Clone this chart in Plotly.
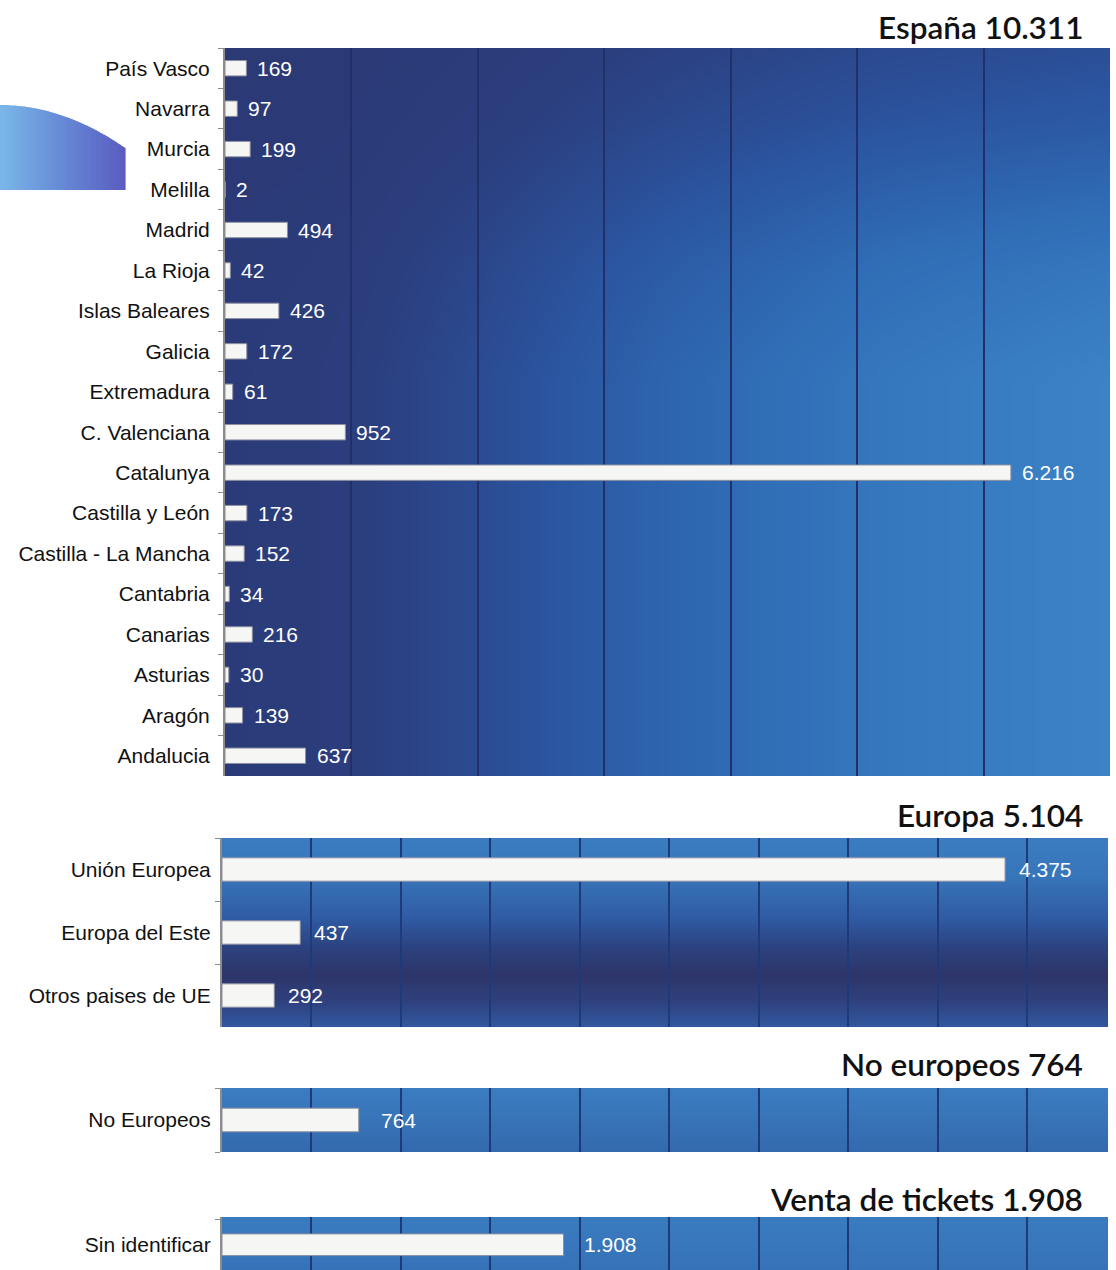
import plotly.graph_objects as go

# ---------------- data ----------------
espana_cats = ["País Vasco", "Navarra", "Murcia", "Melilla", "Madrid", "La Rioja",
               "Islas Baleares", "Galicia", "Extremadura", "C. Valenciana", "Catalunya",
               "Castilla y León", "Castilla - La Mancha", "Cantabria", "Canarias",
               "Asturias", "Aragón", "Andalucia"]
espana_vals = [169, 97, 199, 2, 494, 42, 426, 172, 61, 952, 6216, 173, 152, 34, 216, 30, 139, 637]

europa_cats = ["Unión Europea", "Europa del Este", "Otros paises de UE"]
europa_vals = [4375, 437, 292]

noeu_cats = ["No Europeos"]
noeu_vals = [764]

tickets_cats = ["Sin identificar"]
tickets_vals = [1908]

panel_titles = ["España 10.311", "Europa 5.104", "No europeos 764", "Venta de tickets 1.908"]

# ---------------- helpers ----------------
W, H = 1116, 1270


def hex2rgb(h):
    h = h.lstrip("#")
    return tuple(int(h[i:i + 2], 16) for i in (0, 2, 4))


def interp_color(stops, t):
    for (p0, c0), (p1, c1) in zip(stops[:-1], stops[1:]):
        if p0 <= t <= p1:
            f = 0 if p1 == p0 else (t - p0) / (p1 - p0)
            a, b = hex2rgb(c0), hex2rgb(c1)
            return "rgb(%d,%d,%d)" % tuple(round(a[i] + (b[i] - a[i]) * f) for i in range(3))
    return "rgb(%d,%d,%d)" % hex2rgb(stops[-1][1])


def interp_scalar(stops, t):
    for (p0, v0), (p1, v1) in zip(stops[:-1], stops[1:]):
        if p0 <= t <= p1:
            f = 0 if p1 == p0 else (t - p0) / (p1 - p0)
            return v0 + (v1 - v0) * f
    return stops[-1][1]


def fmt(v):
    return f"{v:,}".replace(",", ".")


def ydom(top_px, bot_px):
    return [max(0.0, 1 - bot_px / H), 1 - top_px / H]


# background gradient definitions (decoration)
p1_scale = [(0, "#2b3772"), (0.2, "#2b3e7e"), (0.45, "#2b55a0"), (0.7, "#2f6cb5"), (1, "#3b82c6")]
p1_h = [(0, 0.12), (0.12, 0.16), (0.3, 0.36), (0.5, 0.62), (0.75, 0.86), (1, 1.0)]
p1_v = [(0, 0.38), (0.1, 0.5), (0.3, 0.85), (0.45, 1.0), (1, 1.0)]

panels = [
    dict(cats=espana_cats, vals=espana_vals, xdom=[225 / W, 1110 / W], ydom=ydom(48, 776),
         xrange=[0, 7000], dtick=1000, width=0.38, gap=9, yrange=None, standoff=9,
         grid="#22306a", title_y=27, scale=p1_scale, twod=True),
    dict(cats=europa_cats, vals=europa_vals, xdom=[222 / W, 1108 / W], ydom=ydom(838, 1027),
         xrange=[0, 4950], dtick=500, width=0.37, gap=12, yrange=None, standoff=5,
         grid="#1f3a7a", title_y=815, twod=False,
         scale=[(0, "#3b7cc0"), (0.2, "#3775b9"), (0.42, "#2f5ba4"), (0.58, "#2c427f"),
                (0.72, "#2d3569"), (0.85, "#2f3f7c"), (1, "#3158a0")]),
    dict(cats=noeu_cats, vals=noeu_vals, xdom=[222 / W, 1108 / W], ydom=ydom(1088, 1152),
         xrange=[0, 4950], dtick=500, width=0.37, gap=20, yrange=[0.5, -0.5], standoff=5,
         grid="#1f3a7a", title_y=1064, twod=False,
         scale=[(0, "#3b7dc1"), (1, "#3469ad")]),
    dict(cats=tickets_cats, vals=tickets_vals, xdom=[222 / W, 1108 / W], ydom=ydom(1217, 1270),
         xrange=[0, 4950], dtick=500, width=0.43, gap=18, yrange=[0.5, -0.55], standoff=5,
         grid="#1f3a7a", title_y=1199, twod=False,
         scale=[(0, "#3a7bc0"), (1, "#3672b7")]),
]

fig = go.Figure()
shapes = []
annotations = []
layout = {}

label_font = dict(family="Liberation Sans, Arial, sans-serif", size=21, color="#111111")
value_font = dict(family="Liberation Sans, Arial, sans-serif", size=21, color="#ffffff")

# --- background subplots (drawn first) ---
for k, p in enumerate(panels, start=1):
    sx = "" if k == 1 else str(k)
    ny, nx = 40, (32 if p["twod"] else 2)
    xs = [i / (nx - 1) for i in range(nx)]
    ys = [j / (ny - 1) for j in range(ny)]
    if p["twod"]:
        z = [[interp_scalar(p1_h, x) * interp_scalar(p1_v, 1 - y) for x in xs] for y in ys]
    else:
        z = [[1 - y for x in xs] for y in ys]
    cs = [[s, c] for s, c in p["scale"]]
    fig.add_trace(go.Heatmap(x=xs, y=ys, z=z, zmin=0, zmax=1, colorscale=cs, zsmooth="best",
                             showscale=False, hoverinfo="skip", xaxis="x" + sx, yaxis="y" + sx))
    layout["xaxis" + sx] = dict(domain=p["xdom"], anchor="y" + sx, range=[0, 1], visible=False,
                                fixedrange=True)
    layout["yaxis" + sx] = dict(domain=p["ydom"], anchor="x" + sx, range=[0, 1], visible=False,
                                fixedrange=True)

# --- bar subplots ---
for k, p in enumerate(panels, start=1):
    sx = str(k + 4)
    xname, yname = "x" + sx, "y" + sx
    fig.add_trace(go.Bar(
        x=p["vals"], y=p["cats"], orientation="h", xaxis=xname, yaxis=yname,
        width=p["width"], marker=dict(color="#f6f6f4", line=dict(color="#8d90a0", width=1)),
        hoverinfo="x+y", showlegend=False,
    ))
    n = len(p["cats"])
    yr = p["yrange"] if p["yrange"] is not None else [n - 0.5, -0.5]
    layout["xaxis" + sx] = dict(domain=p["xdom"], anchor=yname, range=p["xrange"],
                                dtick=p["dtick"], tick0=0, showticklabels=False,
                                showgrid=True, gridcolor=p["grid"], gridwidth=2,
                                zeroline=False, showline=False, fixedrange=True)
    layout["yaxis" + sx] = dict(domain=p["ydom"], anchor=xname, type="category",
                                range=yr, showline=True, linecolor="#8c8c8c", linewidth=2,
                                ticks="outside", ticklen=5, tickcolor="#8c8c8c",
                                tickson="boundaries", ticklabelstandoff=p["standoff"],
                                tickfont=label_font, showgrid=False, fixedrange=True)

    # value labels
    for c, v in zip(p["cats"], p["vals"]):
        annotations.append(dict(x=v, y=c, xref=xname, yref=yname, text=fmt(v),
                                showarrow=False, xanchor="left", yanchor="middle",
                                xshift=p["gap"], font=value_font))

    # panel title
    annotations.append(dict(x=1085 / W, y=1 - p["title_y"] / H, xref="paper", yref="paper",
                            text=panel_titles[k - 1], showarrow=False, xanchor="right",
                            yanchor="middle",
                            font=dict(family="Lato, Open Sans, sans-serif", size=31.5,
                                      color="#111111", weight=600)))

# decorative shape at the left (trapezoid strips for a smooth curved top)
deco_stops = [(0, "#7ab8e8"), (0.5, "#6689d6"), (1, "#5a5cc0")]
step = 3


def deco_top(x):
    return 105 + 43 * (x / 125) ** 2


for x in range(0, 125, step):
    x1 = min(x + step, 125)
    xm = (x + x1) / 2
    path = "M %.5f,%.5f L %.5f,%.5f L %.5f,%.5f L %.5f,%.5f Z" % (
        x / W, 1 - 190 / H,
        x / W, 1 - deco_top(x) / H,
        (x1 + 0.6) / W, 1 - deco_top(x1) / H,
        (x1 + 0.6) / W, 1 - 190 / H)
    shapes.append(dict(type="path", xref="paper", yref="paper", path=path,
                       fillcolor=interp_color(deco_stops, xm / 125),
                       line=dict(width=0), layer="above"))

fig.update_layout(
    width=W, height=H, autosize=False,
    margin=dict(l=0, r=0, t=0, b=0),
    paper_bgcolor="#ffffff", plot_bgcolor="rgba(0,0,0,0)",
    bargap=0.6, showlegend=False,
    shapes=shapes, annotations=annotations,
    **layout,
)

fig.write_html("out.html", config={"displayModeBar": False},
               post_script="document.body.style.margin='0';")
